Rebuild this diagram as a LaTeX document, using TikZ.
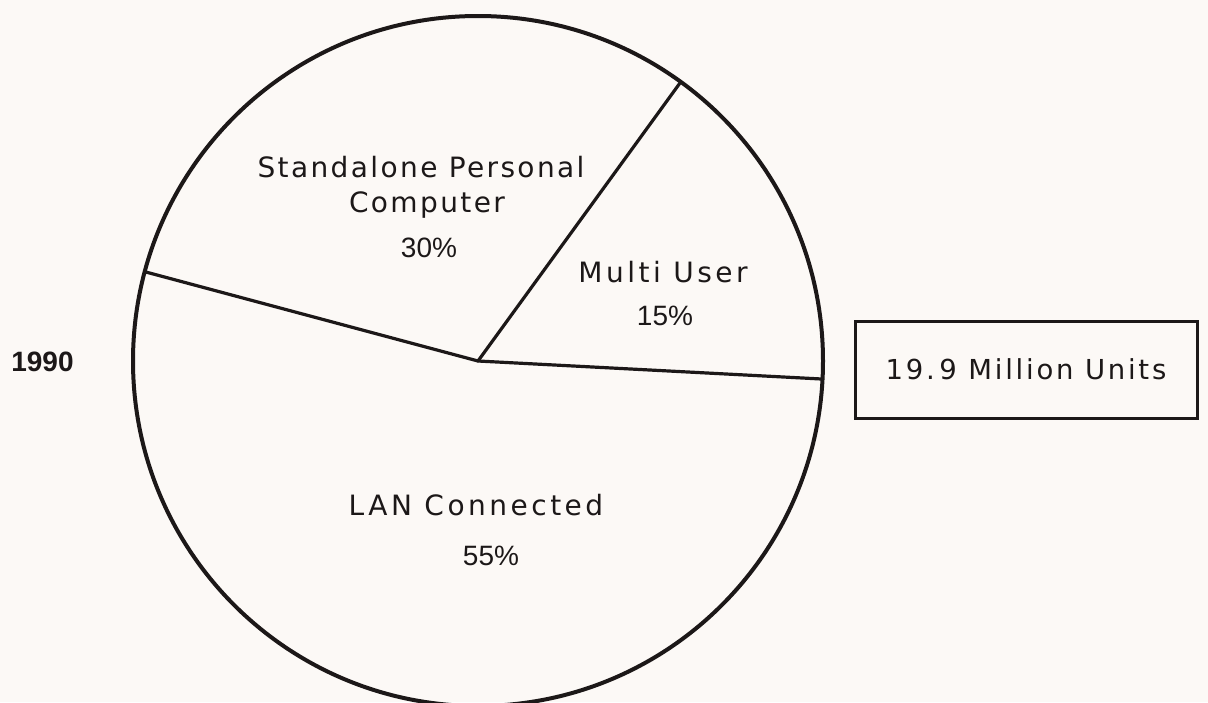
\documentclass[tikz,border=0pt]{standalone}
\usepackage{fontspec}
\setmainfont{DejaVu Sans}
\newfontfamily\wordfont[LetterSpace=12.5]{DejaVu Sans}
\newfontfamily\wordfonttight[LetterSpace=8.5]{DejaVu Sans}
\newfontfamily\boxfont[LetterSpace=10]{DejaVu Sans}
\newfontfamily\numfont{Liberation Sans}
\definecolor{paper}{RGB}{252,249,246}
\definecolor{ink}{RGB}{28,24,24}
\tikzset{
  pie/.style={circle, draw=ink, line width=4pt, minimum size=690pt, inner sep=0pt, outer sep=0pt},
  spoke/.style={draw=ink, line width=3.2pt, line cap=round},
  lbl/.style={anchor=base, inner sep=0pt, text=ink, font={\wordfont\fontsize{28}{34}\selectfont}},
  lbltight/.style={anchor=base, inner sep=0pt, text=ink, font={\wordfonttight\fontsize{28}{34}\selectfont}},
  pct/.style={anchor=base, inner sep=0pt, text=ink, font={\numfont\fontsize{28}{34}\selectfont}},
  totalbox/.style={draw=ink, line width=3pt, minimum width=342pt, minimum height=97pt, inner sep=0pt, text=ink, font={\boxfont\fontsize{27.5}{34}\selectfont}},
  yearlbl/.style={anchor=base, inner sep=0pt, text=ink, font={\numfont\bfseries\fontsize{28}{34}\selectfont}}
}
\begin{document}
\begin{tikzpicture}[x=1pt, y=-1pt]
  \fill[paper] (0,0) rectangle (1208,702);
  \useasboundingbox (0,0) rectangle (1208,702);

  % the pie and its three slice borders
  \node[pie] (pie) at (478,361) {};
  \draw[spoke] (pie.center) -- (pie.165.4);
  \draw[spoke] (pie.center) -- (pie.54.1);
  \draw[spoke] (pie.center) -- (pie.-3.0);

  % slice labels
  \node[lbltight] (sa1) at (421,177) {Standalone Personal};
  \node[lbltight] (sa2) at (427,212) {Computer};
  \node[pct] (sa3) at (429,257) {30\%};

  \node[lbl] (mu1) at (663,282) {Multi User};
  \node[pct] (mu2) at (665,325) {15\%};

  \node[lbl] (lan1) at (476,515) {LAN Connected};
  \node[pct] (lan2) at (491,565) {55\%};

  % year and total
  \node[yearlbl] (year) at (42.5,371) {1990};
  \node[totalbox] (total) at (1026,369.5) {19.\,9 Million Units};
\end{tikzpicture}
\end{document}
